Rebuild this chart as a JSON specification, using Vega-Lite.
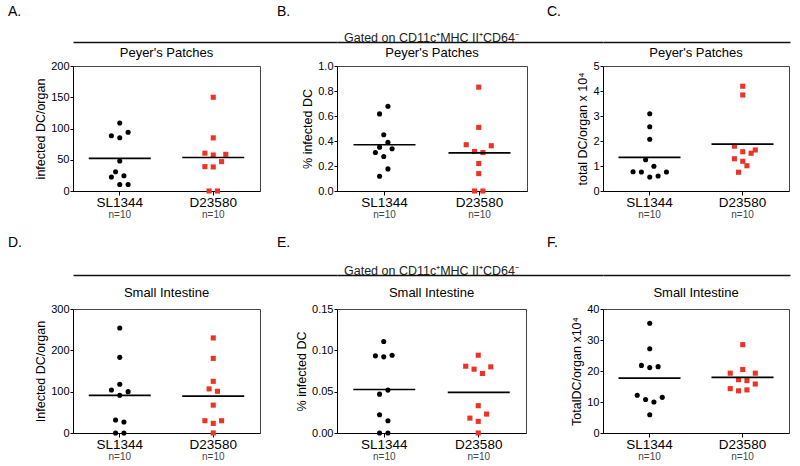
{
  "$schema": "https://vega.github.io/schema/vega-lite/v6.json",
  "padding": {"left": 8, "top": 5, "right": 5, "bottom": 2},
  "background": "white",
  "config": {
    "font": "Liberation Sans",
    "view": {"stroke": "#444", "strokeWidth": 1},
    "axis": {"domainColor": "#000", "tickColor": "#000", "labelColor": "#000", "titleColor": "#000", "grid": false, "titleFontWeight": "normal"},
    "axisY": {"labelFontSize": 11, "tickSize": 3, "labelPadding": 1, "titleFontSize": 12.5, "titlePadding": 3},
    "title": {"fontWeight": "normal", "fontSize": 13, "color": "#000"}
  },
  "datasets": {
    "A": [
      {"group": "SL1344", "value": 108.8, "jitter": 0}, {"group": "SL1344", "value": 88.5, "jitter": -1}, {"group": "SL1344", "value": 85.3, "jitter": 0}, {"group": "SL1344", "value": 93.9, "jitter": 1}, {"group": "SL1344", "value": 48, "jitter": 0},
      {"group": "SL1344", "value": 30.9, "jitter": -0.5}, {"group": "SL1344", "value": 22.4, "jitter": -1}, {"group": "SL1344", "value": 24.5, "jitter": 0.5}, {"group": "SL1344", "value": 10.4, "jitter": 0}, {"group": "SL1344", "value": 10.4, "jitter": 1},
      {"group": "D23580", "value": 150, "jitter": 0}, {"group": "D23580", "value": 85, "jitter": 0}, {"group": "D23580", "value": 60.5, "jitter": -1}, {"group": "D23580", "value": 57.6, "jitter": 0}, {"group": "D23580", "value": 58.7, "jitter": 1.5},
      {"group": "D23580", "value": 47, "jitter": 1}, {"group": "D23580", "value": 39, "jitter": -1}, {"group": "D23580", "value": 38.5, "jitter": 0}, {"group": "D23580", "value": 0, "jitter": -0.5}, {"group": "D23580", "value": 0, "jitter": 0.5}
    ],
    "B": [
      {"group": "SL1344", "value": 0.678, "jitter": 0.5}, {"group": "SL1344", "value": 0.617, "jitter": -0.5}, {"group": "SL1344", "value": 0.45, "jitter": 0}, {"group": "SL1344", "value": 0.389, "jitter": 0.5}, {"group": "SL1344", "value": 0.351, "jitter": -0.5},
      {"group": "SL1344", "value": 0.338, "jitter": 1}, {"group": "SL1344", "value": 0.308, "jitter": -1}, {"group": "SL1344", "value": 0.276, "jitter": 0}, {"group": "SL1344", "value": 0.177, "jitter": 0.5}, {"group": "SL1344", "value": 0.118, "jitter": -0.5},
      {"group": "D23580", "value": 0.831, "jitter": 0}, {"group": "D23580", "value": 0.509, "jitter": 0}, {"group": "D23580", "value": 0.37, "jitter": -1.5}, {"group": "D23580", "value": 0.362, "jitter": 1.5}, {"group": "D23580", "value": 0.316, "jitter": -0.5},
      {"group": "D23580", "value": 0.308, "jitter": 0.5}, {"group": "D23580", "value": 0.22, "jitter": 0}, {"group": "D23580", "value": 0.139, "jitter": 0}, {"group": "D23580", "value": 0, "jitter": -0.5}, {"group": "D23580", "value": 0, "jitter": 0.5}
    ],
    "C": [
      {"group": "SL1344", "value": 3.09, "jitter": 0}, {"group": "SL1344", "value": 2.57, "jitter": 0}, {"group": "SL1344", "value": 2.07, "jitter": 0}, {"group": "SL1344", "value": 1.25, "jitter": -0.5}, {"group": "SL1344", "value": 0.99, "jitter": 0.5},
      {"group": "SL1344", "value": 0.77, "jitter": -2}, {"group": "SL1344", "value": 0.76, "jitter": -1}, {"group": "SL1344", "value": 0.76, "jitter": 2}, {"group": "SL1344", "value": 0.56, "jitter": 0}, {"group": "SL1344", "value": 0.6, "jitter": 1},
      {"group": "D23580", "value": 4.19, "jitter": 0}, {"group": "D23580", "value": 3.84, "jitter": 0}, {"group": "D23580", "value": 1.79, "jitter": -1}, {"group": "D23580", "value": 1.57, "jitter": 0}, {"group": "D23580", "value": 1.64, "jitter": 1.5},
      {"group": "D23580", "value": 1.51, "jitter": 1}, {"group": "D23580", "value": 1.29, "jitter": -1}, {"group": "D23580", "value": 1.19, "jitter": 0}, {"group": "D23580", "value": 1.01, "jitter": 0.5}, {"group": "D23580", "value": 0.75, "jitter": -0.5}
    ],
    "D": [
      {"group": "SL1344", "value": 254, "jitter": 0}, {"group": "SL1344", "value": 183, "jitter": 0}, {"group": "SL1344", "value": 118, "jitter": 0}, {"group": "SL1344", "value": 104, "jitter": -1}, {"group": "SL1344", "value": 100, "jitter": 1},
      {"group": "SL1344", "value": 91.4, "jitter": 0}, {"group": "SL1344", "value": 31.3, "jitter": -0.5}, {"group": "SL1344", "value": 26.5, "jitter": 0.5}, {"group": "SL1344", "value": 0, "jitter": -0.5}, {"group": "SL1344", "value": 0, "jitter": 0.5},
      {"group": "D23580", "value": 230, "jitter": 0}, {"group": "D23580", "value": 180.5, "jitter": 0}, {"group": "D23580", "value": 125, "jitter": 0}, {"group": "D23580", "value": 106.7, "jitter": -0.5}, {"group": "D23580", "value": 101, "jitter": 0.5},
      {"group": "D23580", "value": 67.4, "jitter": 0}, {"group": "D23580", "value": 29.7, "jitter": -1}, {"group": "D23580", "value": 29.7, "jitter": 1}, {"group": "D23580", "value": 23.3, "jitter": 0}, {"group": "D23580", "value": 0, "jitter": 0}
    ],
    "E": [
      {"group": "SL1344", "value": 0.1106, "jitter": 0}, {"group": "SL1344", "value": 0.0933, "jitter": -1}, {"group": "SL1344", "value": 0.0921, "jitter": 0}, {"group": "SL1344", "value": 0.0941, "jitter": 1}, {"group": "SL1344", "value": 0.0519, "jitter": 0.5},
      {"group": "SL1344", "value": 0.047, "jitter": -0.5}, {"group": "SL1344", "value": 0.0221, "jitter": -0.5}, {"group": "SL1344", "value": 0.0149, "jitter": 0.5}, {"group": "SL1344", "value": 0, "jitter": -0.5}, {"group": "SL1344", "value": 0, "jitter": 0.5},
      {"group": "D23580", "value": 0.0941, "jitter": 0}, {"group": "D23580", "value": 0.0808, "jitter": -1.5}, {"group": "D23580", "value": 0.0772, "jitter": -0.5}, {"group": "D23580", "value": 0.08, "jitter": 1.5}, {"group": "D23580", "value": 0.072, "jitter": 0.5},
      {"group": "D23580", "value": 0.033, "jitter": 0}, {"group": "D23580", "value": 0.0229, "jitter": 1}, {"group": "D23580", "value": 0.018, "jitter": -1}, {"group": "D23580", "value": 0.0141, "jitter": 0}, {"group": "D23580", "value": 0, "jitter": 0}
    ],
    "F": [
      {"group": "SL1344", "value": 35.4, "jitter": 0}, {"group": "SL1344", "value": 27.2, "jitter": 0}, {"group": "SL1344", "value": 21.8, "jitter": -1}, {"group": "SL1344", "value": 21.1, "jitter": 0}, {"group": "SL1344", "value": 21.4, "jitter": 1},
      {"group": "SL1344", "value": 12.2, "jitter": -1.5}, {"group": "SL1344", "value": 10.8, "jitter": -0.5}, {"group": "SL1344", "value": 10, "jitter": 0.5}, {"group": "SL1344", "value": 11.5, "jitter": 1.5}, {"group": "SL1344", "value": 5.9, "jitter": 0},
      {"group": "D23580", "value": 28.5, "jitter": 0}, {"group": "D23580", "value": 20.5, "jitter": 0}, {"group": "D23580", "value": 19.3, "jitter": -1.5}, {"group": "D23580", "value": 19.3, "jitter": 1.5}, {"group": "D23580", "value": 17.2, "jitter": -0.5},
      {"group": "D23580", "value": 16.9, "jitter": 0.5}, {"group": "D23580", "value": 15.8, "jitter": 1.5}, {"group": "D23580", "value": 14.3, "jitter": -1.5}, {"group": "D23580", "value": 13.6, "jitter": -0.5}, {"group": "D23580", "value": 13.9, "jitter": 0.5}
    ],
    "hdr": [{"p": 0}]
  },
  "columns": 3,
  "spacing": {"row": 34, "column": 0},
  "bounds": "flush",
  "align": "each",
  "concat": [
    {
      "width": 264, "height": 10, "view": {"stroke": null},
      "title": {"text": "A.", "anchor": "start", "frame": "group", "dx": -65, "offset": 3, "fontSize": 14},
      "data": {"name": "hdr"},
      "mark": {"type": "point", "opacity": 0},
      "encoding": {"x": {"field": "p", "type": "quantitative", "scale": {"domain": [0, 1]}, "axis": {"orient": "top", "offset": -20, "domain": true, "domainWidth": 1.7, "domainColor": "#111", "ticks": false, "labels": false, "title": null}}}
    },
    {
      "width": 266, "height": 10, "view": {"stroke": null},
      "title": {"text": "B.", "anchor": "start", "frame": "group", "dx": -60, "offset": 3, "fontSize": 14},
      "data": {"name": "hdr"},
      "mark": {"type": "point", "opacity": 0},
      "encoding": {"x": {"field": "p", "type": "quantitative", "scale": {"domain": [0, 1]}, "axis": {"orient": "top", "offset": -20, "domain": true, "domainWidth": 1.7, "domainColor": "#111", "ticks": false, "labels": false, "title": "Gated on CD11c⁺MHC II⁺CD64⁻", "titleX": 94, "titleAlign": "center", "titleBaseline": "alphabetic", "titlePadding": 1, "titleFontSize": 12.5, "titleColor": "#222"}}}
    },
    {
      "width": 187, "height": 10, "view": {"stroke": null},
      "title": {"text": "C.", "anchor": "start", "frame": "group", "dx": -56, "offset": 3, "fontSize": 14},
      "data": {"name": "hdr"},
      "mark": {"type": "point", "opacity": 0},
      "encoding": {"x": {"field": "p", "type": "quantitative", "scale": {"domain": [0, 1]}, "axis": {"orient": "top", "offset": -20, "domain": true, "domainWidth": 1.7, "domainColor": "#111", "ticks": false, "labels": false, "title": null}}}
    },
    {
      "width": 187, "height": 125, "data": {"name": "A"},
      "title": {"text": "Peyer's Patches", "frame": "group", "offset": 0},
      "layer": [
        {"mark": {"type": "point", "filled": true, "size": 26, "opacity": 1},
         "encoding": {
           "x": {"field": "group", "type": "nominal", "sort": ["SL1344", "D23580"], "scale": {"paddingInner": 0, "paddingOuter": 0}, "axis": {"orient": "bottom", "title": null, "labelAngle": 0, "labelFontSize": 13.5, "tickSize": 4, "labelPadding": 0}},
           "xOffset": {"field": "jitter", "type": "quantitative", "scale": {"domain": [-5.6, 5.6]}},
           "y": {"field": "value", "type": "quantitative", "scale": {"domain": [0, 200], "nice": false}, "axis": {"title": "infected DC/organ", "values": [0, 50, 100, 150, 200]}},
           "shape": {"field": "group", "type": "nominal", "scale": {"domain": ["SL1344", "D23580"], "range": ["circle", "square"]}, "legend": null},
           "color": {"field": "group", "type": "nominal", "scale": {"domain": ["SL1344", "D23580"], "range": ["#000000", "#ec3326"]}, "legend": null}
         }},
        {"mark": {"type": "tick", "size": 62, "thickness": 1.7, "color": "#000"},
         "encoding": {
           "x": {"field": "group", "type": "nominal", "sort": ["SL1344", "D23580"], "axis": {"orient": "bottom", "title": null, "labelAngle": 0, "labelExpr": "'n=10'", "domain": false, "ticks": false, "labelFontSize": 10, "labelColor": "#444", "offset": 18, "labelPadding": 0}},
           "y": {"aggregate": "mean", "field": "value", "type": "quantitative", "axis": {"title": "infected DC/organ", "values": [0, 50, 100, 150, 200]}}
         }}
      ],
      "resolve": {"axis": {"x": "independent"}}
    },
    {
      "width": 190, "height": 125, "data": {"name": "B"},
      "title": {"text": "Peyer's Patches", "frame": "group", "offset": 0},
      "layer": [
        {"mark": {"type": "point", "filled": true, "size": 26, "opacity": 1},
         "encoding": {
           "x": {"field": "group", "type": "nominal", "sort": ["SL1344", "D23580"], "scale": {"paddingInner": 0, "paddingOuter": 0}, "axis": {"orient": "bottom", "title": null, "labelAngle": 0, "labelFontSize": 13.5, "tickSize": 4, "labelPadding": 0}},
           "xOffset": {"field": "jitter", "type": "quantitative", "scale": {"domain": [-5.6, 5.6]}},
           "y": {"field": "value", "type": "quantitative", "scale": {"domain": [0, 1], "nice": false}, "axis": {"title": "% infected DC", "values": [0, 0.2, 0.4, 0.6, 0.8, 1.0], "format": ".1f"}},
           "shape": {"field": "group", "type": "nominal", "scale": {"domain": ["SL1344", "D23580"], "range": ["circle", "square"]}, "legend": null},
           "color": {"field": "group", "type": "nominal", "scale": {"domain": ["SL1344", "D23580"], "range": ["#000000", "#ec3326"]}, "legend": null}
         }},
        {"mark": {"type": "tick", "size": 62, "thickness": 1.7, "color": "#000"},
         "encoding": {
           "x": {"field": "group", "type": "nominal", "sort": ["SL1344", "D23580"], "axis": {"orient": "bottom", "title": null, "labelAngle": 0, "labelExpr": "'n=10'", "domain": false, "ticks": false, "labelFontSize": 10, "labelColor": "#444", "offset": 18, "labelPadding": 0}},
           "y": {"aggregate": "mean", "field": "value", "type": "quantitative", "axis": {"title": "% infected DC", "values": [0, 0.2, 0.4, 0.6, 0.8, 1.0], "format": ".1f"}}
         }}
      ],
      "resolve": {"axis": {"x": "independent"}}
    },
    {
      "width": 186, "height": 125, "data": {"name": "C"},
      "title": {"text": "Peyer's Patches", "frame": "group", "offset": 0},
      "layer": [
        {"mark": {"type": "point", "filled": true, "size": 26, "opacity": 1},
         "encoding": {
           "x": {"field": "group", "type": "nominal", "sort": ["SL1344", "D23580"], "scale": {"paddingInner": 0, "paddingOuter": 0}, "axis": {"orient": "bottom", "title": null, "labelAngle": 0, "labelFontSize": 13.5, "tickSize": 4, "labelPadding": 0}},
           "xOffset": {"field": "jitter", "type": "quantitative", "scale": {"domain": [-5.6, 5.6]}},
           "y": {"field": "value", "type": "quantitative", "scale": {"domain": [0, 5], "nice": false}, "axis": {"title": "total DC/organ x 10⁴", "values": [0, 1, 2, 3, 4, 5]}},
           "shape": {"field": "group", "type": "nominal", "scale": {"domain": ["SL1344", "D23580"], "range": ["circle", "square"]}, "legend": null},
           "color": {"field": "group", "type": "nominal", "scale": {"domain": ["SL1344", "D23580"], "range": ["#000000", "#ec3326"]}, "legend": null}
         }},
        {"mark": {"type": "tick", "size": 62, "thickness": 1.7, "color": "#000"},
         "encoding": {
           "x": {"field": "group", "type": "nominal", "sort": ["SL1344", "D23580"], "axis": {"orient": "bottom", "title": null, "labelAngle": 0, "labelExpr": "'n=10'", "domain": false, "ticks": false, "labelFontSize": 10, "labelColor": "#444", "offset": 18, "labelPadding": 0}},
           "y": {"aggregate": "mean", "field": "value", "type": "quantitative", "axis": {"title": "total DC/organ x 10⁴", "values": [0, 1, 2, 3, 4, 5]}}
         }}
      ],
      "resolve": {"axis": {"x": "independent"}}
    },
    {
      "width": 264, "height": 50, "view": {"stroke": null},
      "title": {"text": "D.", "anchor": "start", "frame": "group", "dx": -65, "offset": -25, "fontSize": 14},
      "data": {"name": "hdr"},
      "mark": {"type": "point", "opacity": 0},
      "encoding": {"x": {"field": "p", "type": "quantitative", "scale": {"domain": [0, 1]}, "axis": {"orient": "top", "offset": -50, "domain": true, "domainWidth": 1.7, "domainColor": "#111", "ticks": false, "labels": false, "title": null}}}
    },
    {
      "width": 266, "height": 50, "view": {"stroke": null},
      "title": {"text": "E.", "anchor": "start", "frame": "group", "dx": -60, "offset": -25, "fontSize": 14},
      "data": {"name": "hdr"},
      "mark": {"type": "point", "opacity": 0},
      "encoding": {"x": {"field": "p", "type": "quantitative", "scale": {"domain": [0, 1]}, "axis": {"orient": "top", "offset": -50, "domain": true, "domainWidth": 1.7, "domainColor": "#111", "ticks": false, "labels": false, "title": "Gated on CD11c⁺MHC II⁺CD64⁻", "titleX": 94, "titleAlign": "center", "titleBaseline": "alphabetic", "titlePadding": 1, "titleFontSize": 12.5, "titleColor": "#222"}}}
    },
    {
      "width": 187, "height": 50, "view": {"stroke": null},
      "title": {"text": "F.", "anchor": "start", "frame": "group", "dx": -56, "offset": -25, "fontSize": 14},
      "data": {"name": "hdr"},
      "mark": {"type": "point", "opacity": 0},
      "encoding": {"x": {"field": "p", "type": "quantitative", "scale": {"domain": [0, 1]}, "axis": {"orient": "top", "offset": -50, "domain": true, "domainWidth": 1.7, "domainColor": "#111", "ticks": false, "labels": false, "title": null}}}
    },
    {
      "width": 187, "height": 124, "data": {"name": "D"},
      "title": {"text": "Small Intestine", "frame": "group", "offset": 3},
      "layer": [
        {"mark": {"type": "point", "filled": true, "size": 26, "opacity": 1},
         "encoding": {
           "x": {"field": "group", "type": "nominal", "sort": ["SL1344", "D23580"], "scale": {"paddingInner": 0, "paddingOuter": 0}, "axis": {"orient": "bottom", "title": null, "labelAngle": 0, "labelFontSize": 13.5, "tickSize": 4, "labelPadding": 0}},
           "xOffset": {"field": "jitter", "type": "quantitative", "scale": {"domain": [-5.6, 5.6]}},
           "y": {"field": "value", "type": "quantitative", "scale": {"domain": [0, 300], "nice": false}, "axis": {"title": "Infected DC/organ", "values": [0, 100, 200, 300]}},
           "shape": {"field": "group", "type": "nominal", "scale": {"domain": ["SL1344", "D23580"], "range": ["circle", "square"]}, "legend": null},
           "color": {"field": "group", "type": "nominal", "scale": {"domain": ["SL1344", "D23580"], "range": ["#000000", "#ec3326"]}, "legend": null}
         }},
        {"mark": {"type": "tick", "size": 62, "thickness": 1.7, "color": "#000"},
         "encoding": {
           "x": {"field": "group", "type": "nominal", "sort": ["SL1344", "D23580"], "axis": {"orient": "bottom", "title": null, "labelAngle": 0, "labelExpr": "'n=10'", "domain": false, "ticks": false, "labelFontSize": 10, "labelColor": "#444", "offset": 18, "labelPadding": 0}},
           "y": {"aggregate": "mean", "field": "value", "type": "quantitative", "axis": {"title": "Infected DC/organ", "values": [0, 100, 200, 300]}}
         }}
      ],
      "resolve": {"axis": {"x": "independent"}}
    },
    {
      "width": 189, "height": 124, "data": {"name": "E"},
      "title": {"text": "Small Intestine", "frame": "group", "offset": 3},
      "layer": [
        {"mark": {"type": "point", "filled": true, "size": 26, "opacity": 1},
         "encoding": {
           "x": {"field": "group", "type": "nominal", "sort": ["SL1344", "D23580"], "scale": {"paddingInner": 0, "paddingOuter": 0}, "axis": {"orient": "bottom", "title": null, "labelAngle": 0, "labelFontSize": 13.5, "tickSize": 4, "labelPadding": 0}},
           "xOffset": {"field": "jitter", "type": "quantitative", "scale": {"domain": [-5.6, 5.6]}},
           "y": {"field": "value", "type": "quantitative", "scale": {"domain": [0, 0.15], "nice": false}, "axis": {"title": "% infected DC", "values": [0, 0.05, 0.1, 0.15], "format": ".2f"}},
           "shape": {"field": "group", "type": "nominal", "scale": {"domain": ["SL1344", "D23580"], "range": ["circle", "square"]}, "legend": null},
           "color": {"field": "group", "type": "nominal", "scale": {"domain": ["SL1344", "D23580"], "range": ["#000000", "#ec3326"]}, "legend": null}
         }},
        {"mark": {"type": "tick", "size": 62, "thickness": 1.7, "color": "#000"},
         "encoding": {
           "x": {"field": "group", "type": "nominal", "sort": ["SL1344", "D23580"], "axis": {"orient": "bottom", "title": null, "labelAngle": 0, "labelExpr": "'n=10'", "domain": false, "ticks": false, "labelFontSize": 10, "labelColor": "#444", "offset": 18, "labelPadding": 0}},
           "y": {"aggregate": "mean", "field": "value", "type": "quantitative", "axis": {"title": "% infected DC", "values": [0, 0.05, 0.1, 0.15], "format": ".2f"}}
         }}
      ],
      "resolve": {"axis": {"x": "independent"}}
    },
    {
      "width": 186, "height": 124, "data": {"name": "F"},
      "title": {"text": "Small Intestine", "frame": "group", "offset": 3},
      "layer": [
        {"mark": {"type": "point", "filled": true, "size": 26, "opacity": 1},
         "encoding": {
           "x": {"field": "group", "type": "nominal", "sort": ["SL1344", "D23580"], "scale": {"paddingInner": 0, "paddingOuter": 0}, "axis": {"orient": "bottom", "title": null, "labelAngle": 0, "labelFontSize": 13.5, "tickSize": 4, "labelPadding": 0}},
           "xOffset": {"field": "jitter", "type": "quantitative", "scale": {"domain": [-5.6, 5.6]}},
           "y": {"field": "value", "type": "quantitative", "scale": {"domain": [0, 40], "nice": false}, "axis": {"title": "TotalDC/organ x10⁴", "values": [0, 10, 20, 30, 40]}},
           "shape": {"field": "group", "type": "nominal", "scale": {"domain": ["SL1344", "D23580"], "range": ["circle", "square"]}, "legend": null},
           "color": {"field": "group", "type": "nominal", "scale": {"domain": ["SL1344", "D23580"], "range": ["#000000", "#ec3326"]}, "legend": null}
         }},
        {"mark": {"type": "tick", "size": 62, "thickness": 1.7, "color": "#000"},
         "encoding": {
           "x": {"field": "group", "type": "nominal", "sort": ["SL1344", "D23580"], "axis": {"orient": "bottom", "title": null, "labelAngle": 0, "labelExpr": "'n=10'", "domain": false, "ticks": false, "labelFontSize": 10, "labelColor": "#444", "offset": 18, "labelPadding": 0}},
           "y": {"aggregate": "mean", "field": "value", "type": "quantitative", "axis": {"title": "TotalDC/organ x10⁴", "values": [0, 10, 20, 30, 40]}}
         }}
      ],
      "resolve": {"axis": {"x": "independent"}}
    }
  ]
}
